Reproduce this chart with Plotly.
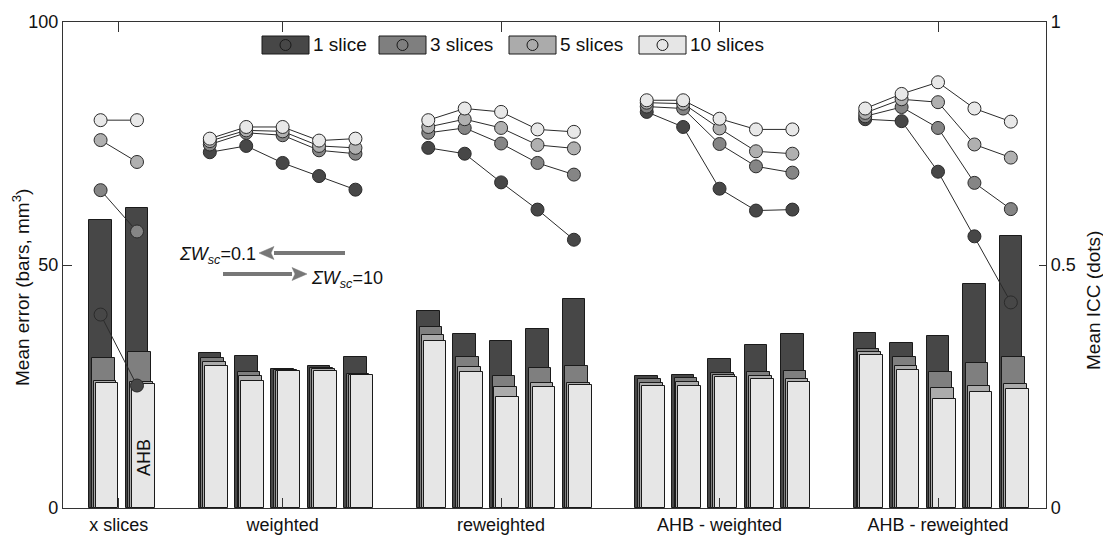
import plotly.graph_objects as go

# ---------------- data ----------------
categories = ["x slices", "weighted", "reweighted", "AHB - weighted", "AHB - reweighted"]
series_names = ["1 slice", "3 slices", "5 slices", "10 slices"]
group_sizes = [2, 5, 5, 5, 5]

# Mean error (bars, mm^3), per series, per group
err_1 = [[59.2, 61.7], [31.9, 31.2, 28.7, 29.2, 31.1], [40.5, 35.8, 34.3, 36.8, 43.1],
         [27.2, 27.4, 30.6, 33.6, 35.8], [36.0, 33.9, 35.3, 46.1, 55.9]]
err_3 = [[30.8, 32.2], [30.8, 27.9, 28.4, 28.9, 27.5], [37.2, 31.0, 27.1, 28.9, 29.3],
         [26.5, 26.8, 27.7, 27.9, 28.1], [32.8, 31.0, 27.9, 29.8, 31.0]]
err_5 = [[26.2, 26.0], [30.1, 27.2, 28.2, 28.6, 27.4], [35.5, 29.1, 25.0, 25.8, 25.8],
         [25.8, 26.0, 27.4, 27.2, 26.5], [32.0, 29.3, 24.7, 25.1, 25.5]]
err_10 = [[25.7, 25.5], [29.3, 26.2, 28.2, 28.1, 27.3], [34.4, 27.9, 22.9, 25.0, 25.4],
          [25.2, 25.2, 26.9, 26.5, 25.9], [31.4, 28.4, 22.5, 23.8, 24.5]]

# Mean ICC (dots), per series, per group
icc_1 = [[0.398, 0.252], [0.732, 0.745, 0.710, 0.683, 0.655], [0.741, 0.729, 0.670, 0.614, 0.552],
         [0.815, 0.784, 0.657, 0.612, 0.614], [0.800, 0.796, 0.692, 0.559, 0.423]]
icc_3 = [[0.654, 0.569], [0.748, 0.772, 0.767, 0.736, 0.729], [0.772, 0.782, 0.750, 0.710, 0.686],
         [0.826, 0.822, 0.749, 0.703, 0.690], [0.806, 0.825, 0.782, 0.669, 0.615]]
icc_5 = [[0.757, 0.712], [0.755, 0.777, 0.775, 0.745, 0.741], [0.784, 0.800, 0.782, 0.747, 0.740],
         [0.834, 0.832, 0.781, 0.734, 0.729], [0.813, 0.841, 0.835, 0.748, 0.721]]
icc_10 = [[0.798, 0.798], [0.760, 0.784, 0.784, 0.756, 0.760], [0.798, 0.822, 0.815, 0.779, 0.774],
          [0.839, 0.839, 0.801, 0.779, 0.779], [0.822, 0.852, 0.876, 0.822, 0.795]]

y_left_ticks = [0, 50, 100]
y_right_ticks = [0, 0.5, 1]
y_right_ticktext = ["0", "0.5", "1"]

errs = [err_1, err_3, err_5, err_10]
iccs = [icc_1, icc_3, icc_5, icc_10]

# ---------------- styles ----------------
fills = ["#474747", "#7f7f7f", "#ababab", "#e6e6e6"]
dot_fills = ["#474747", "#858585", "#b0b0b0", "#e8e8e8"]
bar_shift = [0.0, 0.074, 0.125, 0.18]
bar_width = 0.62
FONT = "Arial, 'Liberation Sans', sans-serif"
W, H = 1103, 538
ML, MR, MT, MB = 63, 57, 22, 30
PW, PH = W - ML - MR, H - MT - MB

# positions: groups separated by one empty slot
positions = []
start = 0
for n in group_sizes:
    positions.append(list(range(start, start + n)))
    start += n + 1
tick_centers = [sum(p) / len(p) for p in positions]

fig = go.Figure()

# bars (dark behind, light in front)
for i, name in enumerate(series_names):
    xs = [x for grp in positions for x in grp]
    ys = [v for grp in errs[i] for v in grp]
    fig.add_trace(go.Bar(
        x=xs, y=ys, name=name, offset=-0.31 + bar_shift[i], width=bar_width,
        marker=dict(color=fills[i], line=dict(color="#1a1a1a", width=1)),
        showlegend=False, yaxis="y"))

# dots with lines (per group, separated)
for i, name in enumerate(series_names):
    xs, ys = [], []
    for grp_pos, grp_val in zip(positions, iccs[i]):
        xs += grp_pos + [None]
        ys += grp_val + [None]
    fig.add_trace(go.Scatter(
        x=xs, y=ys, mode="lines+markers", name=name, yaxis="y2",
        line=dict(color="#2b2b2b", width=1),
        marker=dict(size=13, color=dot_fills[i], line=dict(color="#2b2b2b", width=1)),
        showlegend=False, connectgaps=False))

unit = 36.41
x0 = -0.31 - (89.3 - ML) / unit
x1 = x0 + PW / unit

def px(xp):
    return (xp - ML) / PW

def py(yp):
    return (H - MB - yp) / PH

shapes = []
annotations = []
TXT = "#111111"

# custom legend: swatch rectangles with circles
legend_x = [262, 379, 509, 639]
sw_w = 47
for i, name in enumerate(series_names):
    lx = legend_x[i]
    shapes.append(dict(type="rect", xref="paper", yref="paper",
                       x0=px(lx), x1=px(lx + sw_w), y0=py(54), y1=py(36),
                       fillcolor=fills[i], line=dict(color="#1a1a1a", width=1)))
    cx = lx + sw_w / 2
    shapes.append(dict(type="circle", xref="paper", yref="paper",
                       x0=px(cx - 5.5), x1=px(cx + 5.5), y0=py(45 + 5.5), y1=py(45 - 5.5),
                       fillcolor="rgba(0,0,0,0)", line=dict(color="#1a1a1a", width=1)))
    annotations.append(dict(text=name, xref="paper", yref="paper", x=px(lx + sw_w + 2), y=py(45),
                            xanchor="left", yanchor="middle", showarrow=False,
                            font=dict(family=FONT, size=19, color=TXT)))

# arrows drawn as shaft + triangular head
ARROW = "#777777"
def arrow(tail_x, tip_x, yp):
    d = 1 if tip_x > tail_x else -1
    base = tip_x - d * 15
    shapes.append(dict(type="line", xref="paper", yref="paper",
                       x0=px(tail_x), x1=px(base), y0=py(yp), y1=py(yp),
                       line=dict(color=ARROW, width=4)))
    shapes.append(dict(type="path", xref="paper", yref="paper",
                       path=f"M {px(tip_x)},{py(yp)} L {px(base)},{py(yp - 6.5)} "
                            f"L {px(base + d * 3)},{py(yp)} L {px(base)},{py(yp + 6.5)} Z",
                       fillcolor=ARROW, line=dict(color=ARROW, width=0.5)))

arrow(345, 259, 253)
arrow(223, 307, 274)

annotations.append(dict(text="<i>ΣW</i><sub><i>sc</i></sub>=0.1", xref="paper", yref="paper",
                        x=px(258), y=py(255), xanchor="right", yanchor="middle", showarrow=False,
                        font=dict(family=FONT, size=18, color=TXT)))
annotations.append(dict(text="<i>ΣW</i><sub><i>sc</i></sub>=10", xref="paper", yref="paper",
                        x=px(309), y=py(279), xanchor="left", yanchor="middle", showarrow=False,
                        font=dict(family=FONT, size=18, color=TXT)))
# AHB rotated label
annotations.append(dict(text="AHB", xref="paper", yref="paper", x=px(144), y=py(458),
                        xanchor="center", yanchor="middle", textangle=-90, showarrow=False,
                        font=dict(family=FONT, size=18, color=TXT)))
# axis titles
annotations.append(dict(text="Mean error (bars, mm<sup>3</sup>)", xref="paper", yref="paper",
                        x=px(21), y=py(288), xanchor="center", yanchor="middle", textangle=-90,
                        showarrow=False, font=dict(family=FONT, size=19, color=TXT)))
annotations.append(dict(text="Mean ICC (dots)", xref="paper", yref="paper",
                        x=px(1093), y=py(301), xanchor="center", yanchor="middle", textangle=-90,
                        showarrow=False, font=dict(family=FONT, size=19, color=TXT)))

axis_line = dict(showline=True, linecolor="#333333", linewidth=1.3, showgrid=False, zeroline=False)

fig.update_layout(
    width=W, height=H, margin=dict(l=ML, r=MR, t=MT, b=MB, autoexpand=False),
    plot_bgcolor="white", paper_bgcolor="white",
    barmode="overlay", bargap=0,
    font=dict(family=FONT, size=18, color=TXT),
    xaxis=dict(range=[x0, x1], tickvals=tick_centers, ticktext=categories,
               ticks="inside", ticklen=10, tickcolor="#333333", mirror="ticks",
               layer="above traces", tickfont=dict(size=18), **axis_line),
    yaxis=dict(range=[0, 100], tickvals=y_left_ticks, ticks="inside", ticklen=9,
               tickcolor="#333333", layer="above traces", tickfont=dict(size=18),
               automargin=False, **axis_line),
    yaxis2=dict(range=[0, 1], tickvals=y_right_ticks, ticktext=y_right_ticktext,
                overlaying="y", side="right", ticks="inside", ticklen=7,
                tickcolor="#333333", tickfont=dict(size=18),
                automargin=False, **axis_line),
    shapes=shapes, annotations=annotations,
)

fig.write_html("out.html", config={"displayModeBar": False},
               post_script="document.body.style.margin='0';")
